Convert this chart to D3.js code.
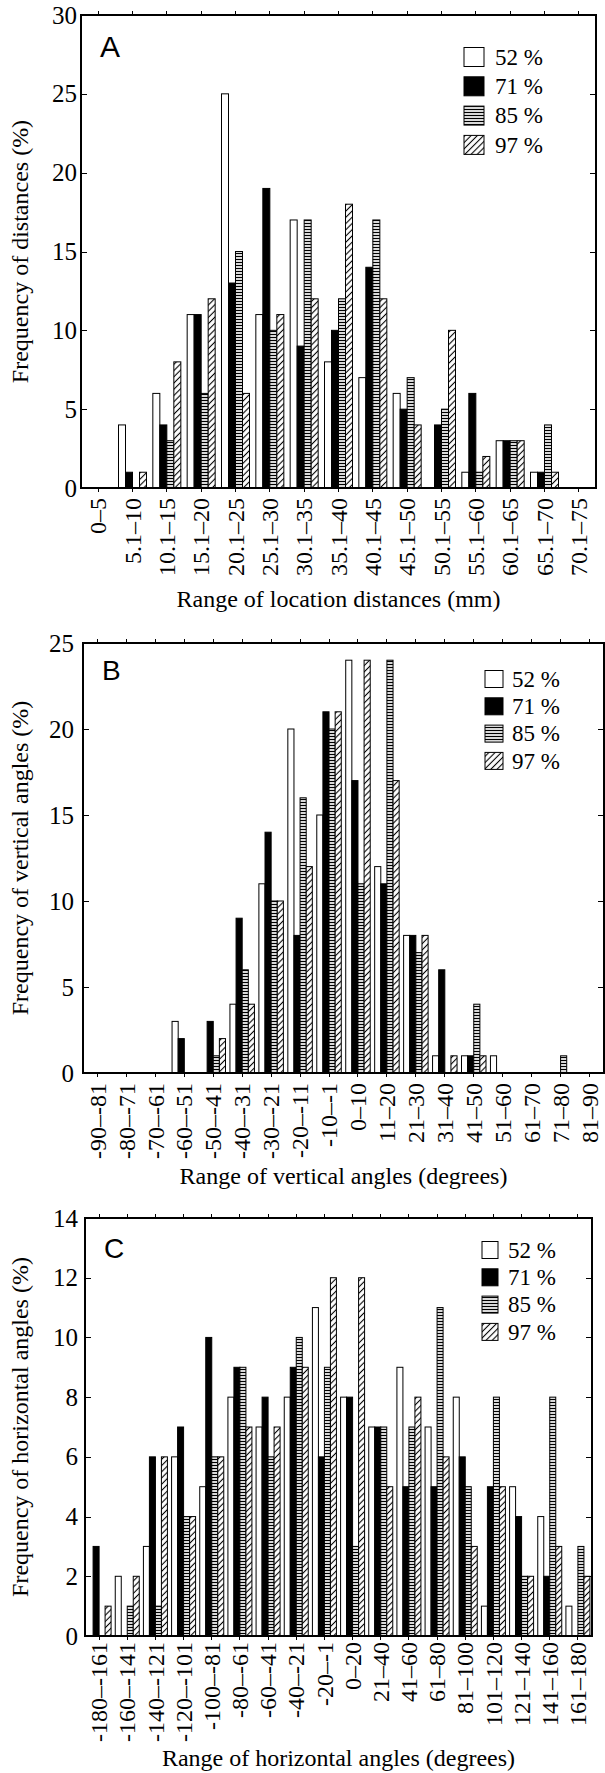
<!DOCTYPE html>
<html>
<head>
<meta charset="utf-8">
<title>Location frequency histograms</title>
<style>
body { margin: 0; background: #fff; }
text { font-family: "Liberation Serif", "Times New Roman", serif; fill: #000; }
.tick line { stroke: #000; shape-rendering: crispEdges; }
.frame { fill: none; stroke: #000; stroke-width: 1.2; shape-rendering: crispEdges; }
.bar { stroke: #000; stroke-width: 1; }
.letter { font-family: "Liberation Sans", Arial, sans-serif; }
</style>
</head>
<body>
<div id="chart"></div>
<script src="https://cdn.jsdelivr.net/npm/d3@7"></script>
<script>
var serif = "'Liberation Serif', 'Times New Roman', serif";
var seriesNames = ["52 %", "71 %", "85 %", "97 %"];
var seriesFill = ["#fff", "#000", "url(#hlines)", "url(#hatch)"];

var distCats = ["0–5", "5.1–10", "10.1–15", "15.1–20", "20.1–25", "25.1–30", "30.1–35",
    "35.1–40", "40.1–45", "45.1–50", "50.1–55", "55.1–60", "60.1–65", "65.1–70", "70.1–75"];
var dist52 = [0, 4, 6, 11, 25, 11, 17, 8, 7, 6, 0, 1, 3, 1, 0];
var dist71 = [0, 1, 4, 11, 13, 19, 9, 10, 14, 5, 4, 6, 3, 1, 0];
var dist85 = [0, 0, 3, 6, 15, 10, 17, 12, 17, 7, 5, 1, 3, 4, 0];
var dist97 = [0, 1, 8, 12, 6, 11, 12, 18, 12, 4, 10, 2, 3, 1, 0];

var vertCats = ["-90–-81", "-80–-71", "-70–-61", "-60–-51", "-50–-41", "-40–-31", "-30–-21",
    "-20–-11", "-10–-1", "0–10", "11–20", "21–30", "31–40", "41–50", "51–60", "61–70", "71–80", "81–90"];
var vert52 = [0, 0, 0, 3, 0, 4, 11, 20, 15, 24, 12, 8, 1, 1, 1, 0, 0, 0];
var vert71 = [0, 0, 0, 2, 3, 9, 14, 8, 21, 17, 11, 8, 6, 1, 0, 0, 0, 0];
var vert85 = [0, 0, 0, 0, 1, 6, 10, 16, 20, 11, 24, 7, 0, 4, 0, 0, 1, 0];
var vert97 = [0, 0, 0, 0, 2, 4, 10, 12, 21, 24, 17, 8, 1, 1, 0, 0, 0, 0];

var horCats = ["-180–-161", "-160–-141", "-140–-121", "-120–-101", "-100–-81", "-80–-61", "-60–-41",
    "-40–-21", "-20–-1", "0–20", "21–40", "41–60", "61–80", "81–100", "101–120", "121–140", "141–160", "161–180"];
var hor52 = [0, 2, 3, 6, 5, 8, 7, 8, 11, 8, 7, 9, 7, 8, 1, 5, 4, 1];
var hor71 = [3, 0, 6, 7, 10, 9, 8, 9, 6, 8, 7, 5, 5, 6, 5, 4, 2, 0];
var hor85 = [0, 1, 1, 4, 6, 9, 6, 10, 9, 3, 7, 7, 11, 5, 8, 2, 8, 3];
var hor97 = [1, 2, 6, 4, 6, 7, 7, 9, 12, 12, 5, 8, 6, 3, 5, 2, 3, 2];

var panels = [
    { letter: "A", cats: distCats, values: [dist52, dist71, dist85, dist97],
      left: 81, right: 596, top: 15, bottom: 488, ymax: 30, major: 5, minor: 1, groupW: 28,
      ylabelPad: 4, xlabelPad: 10, letterSize: 30, letterY: 57,
      legX: 464, legW: 20, legH: 19, legY: 57, legStep: 29.3, legTextX: 495,
      ytitle: "Frequency of distances (%)", xtitle: "Range of location distances (mm)", xtitleY: 607 },
    { letter: "B", cats: vertCats, values: [vert52, vert71, vert85, vert97],
      left: 83, right: 604, top: 643, bottom: 1073, ymax: 25, major: 5, minor: 1, groupW: 24.5,
      ylabelPad: 9, xlabelPad: 10, letterSize: 28, letterY: 680,
      legX: 485, legW: 18, legH: 17, legY: 679, legStep: 27.3, legTextX: 512,
      ytitle: "Frequency of vertical angles (%)", xtitle: "Range of vertical angles (degrees)", xtitleY: 1184 },
    { letter: "C", cats: horCats, values: [hor52, hor71, hor85, hor97],
      left: 85, right: 592, top: 1218, bottom: 1636, ymax: 14, major: 2, minor: 0.5, groupW: 24,
      ylabelPad: 7, xlabelPad: 6, letterSize: 28, letterY: 1258,
      legX: 482, legW: 16, legH: 17, legY: 1250, legStep: 27.3, legTextX: 508,
      ytitle: "Frequency of horizontal angles (%)", xtitle: "Range of horizontal angles (degrees)", xtitleY: 1766 }
];

var svg = d3.select("#chart").append("svg")
    .attr("width", 605)
    .attr("height", 1773);

// fill patterns for the 85 % and 97 % series
var defs = svg.append("defs");
var hl = defs.append("pattern")
    .attr("id", "hlines")
    .attr("patternUnits", "userSpaceOnUse")
    .attr("width", 6).attr("height", 3);
hl.append("rect").attr("width", 6).attr("height", 3).attr("fill", "#fff");
hl.append("line").attr("x1", 0).attr("x2", 6).attr("y1", 1.5).attr("y2", 1.5)
    .attr("stroke", "#000").attr("stroke-width", 1.3);

var ht = defs.append("pattern")
    .attr("id", "hatch")
    .attr("patternUnits", "userSpaceOnUse")
    .attr("width", 6).attr("height", 4.4)
    .attr("patternTransform", "rotate(-45)");
ht.append("rect").attr("width", 6).attr("height", 4.4).attr("fill", "#fff");
ht.append("line").attr("x1", 0).attr("x2", 6).attr("y1", 2.2).attr("y2", 2.2)
    .attr("stroke", "#000").attr("stroke-width", 1.1);

function range(a, b, step) {
    var out = [];
    for (var v = a; v <= b + 1e-9; v += step) out.push(Math.round(v * 100) / 100);
    return out;
}

function drawPanel(p) {
    var g = svg.append("g").attr("class", "panel");

    var x = d3.scaleBand().domain(p.cats).range([p.left, p.right]);
    var x1 = d3.scaleBand().domain(seriesNames).range([0, p.groupW]);
    var y = d3.scaleLinear().domain([0, p.ymax]).range([p.bottom, p.top]);
    var shift = (x.bandwidth() - p.groupW) / 2;

    // bars
    seriesNames.forEach(function(s, si) {
        var rows = p.cats.map(function(c, i) { return { cat: c, v: p.values[si][i] }; })
            .filter(function(d) { return d.v > 0; });
        g.append("g").selectAll("rect")
            .data(rows)
            .enter().append("rect")
            .attr("class", "bar")
            .attr("x", function(d) { return x(d.cat) + shift + x1(s); })
            .attr("y", function(d) { return y(d.v); })
            .attr("width", x1.bandwidth())
            .attr("height", function(d) { return p.bottom - y(d.v); })
            .attr("fill", seriesFill[si]);
    });

    var majors = range(0, p.ymax, p.major);
    var minors = range(0, p.ymax, p.minor).filter(function(v) { return majors.indexOf(v) < 0; });

    // left axis
    var gl = g.append("g").attr("transform", "translate(" + p.left + ",0)");
    gl.call(d3.axisLeft(y).tickValues(minors).tickSize(-3).tickFormat(""));
    gl.call(d3.axisLeft(y).tickValues(majors).tickSize(-6).tickPadding(p.ylabelPad));
    gl.attr("font-family", serif).attr("font-size", 25);
    gl.selectAll(".domain").remove();
    gl.selectAll("text").style("font-family", serif).style("font-size", "25px");

    // right axis
    var gr = g.append("g").attr("transform", "translate(" + p.right + ",0)");
    gr.call(d3.axisRight(y).tickValues(minors).tickSize(-3).tickFormat(""));
    gr.call(d3.axisRight(y).tickValues(majors).tickSize(-6).tickFormat(""));
    gr.selectAll(".domain").remove();

    // top axis
    var gt = g.append("g").attr("transform", "translate(0," + p.top + ")");
    gt.call(d3.axisTop(x).tickSize(4).tickFormat(""));
    gt.selectAll(".domain").remove();

    // bottom axis with rotated labels
    var gb = g.append("g").attr("transform", "translate(0," + p.bottom + ")");
    gb.call(d3.axisBottom(x).tickSize(4));
    gb.attr("font-family", serif).attr("font-size", 24);
    gb.selectAll(".domain").remove();
    gb.selectAll("text")
        .style("font-family", serif)
        .style("font-size", "24px")
        .attr("transform", "rotate(-90)")
        .attr("x", -p.xlabelPad)
        .attr("y", 0)
        .attr("dy", "0.34em")
        .attr("text-anchor", "end");

    g.append("rect")
        .attr("class", "frame")
        .attr("x", p.left).attr("y", p.top)
        .attr("width", p.right - p.left)
        .attr("height", p.bottom - p.top);

    // panel letter
    g.append("text")
        .attr("class", "letter")
        .attr("x", p.left + 19)
        .attr("y", p.letterY)
        .style("font-family", "'Liberation Sans', Arial, sans-serif")
        .style("font-size", p.letterSize + "px")
        .text(p.letter);

    // legend
    var leg = g.append("g");
    seriesNames.forEach(function(s, si) {
        var cy = p.legY + si * p.legStep;
        leg.append("rect")
            .attr("x", p.legX).attr("y", cy - p.legH / 2)
            .attr("width", p.legW).attr("height", p.legH)
            .attr("fill", seriesFill[si])
            .attr("stroke", "#000").attr("stroke-width", 1);
        leg.append("text")
            .attr("x", p.legTextX).attr("y", cy)
            .attr("dy", "0.34em")
            .style("font-family", serif)
            .style("font-size", "23px")
            .text(s);
    });

    // axis titles
    g.append("text")
        .attr("transform", "translate(28," + ((p.top + p.bottom) / 2) + ") rotate(-90)")
        .attr("text-anchor", "middle")
        .style("font-family", serif)
        .style("font-size", "24px")
        .text(p.ytitle);
    g.append("text")
        .attr("x", (p.left + p.right) / 2)
        .attr("y", p.xtitleY)
        .attr("text-anchor", "middle")
        .style("font-family", serif)
        .style("font-size", "24px")
        .text(p.xtitle);
}

panels.forEach(drawPanel);
</script>
</body>
</html>
